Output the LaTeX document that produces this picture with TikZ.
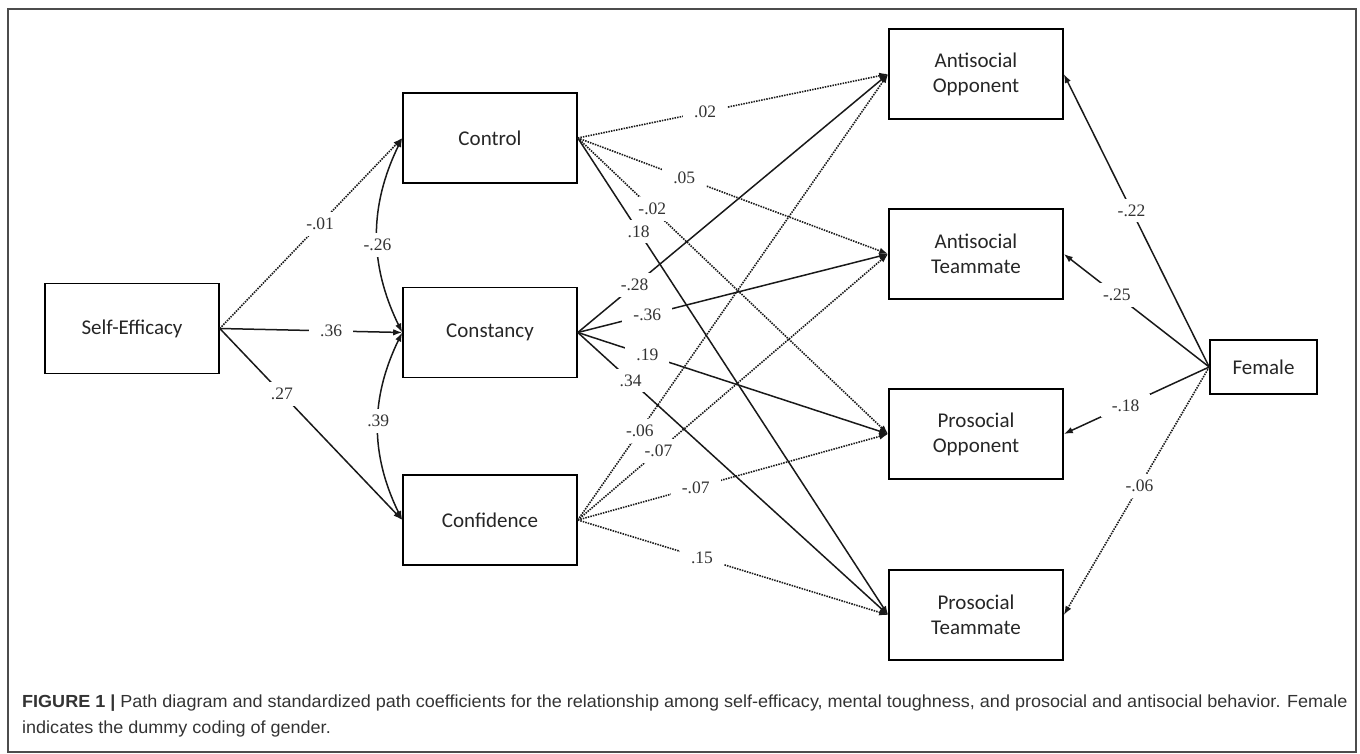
\documentclass[tikz,border=0pt]{standalone}
\usepackage{fontspec}
\setmainfont{Liberation Serif}
\newfontfamily\boxfont{Carlito}
\newfontfamily\capfont[FakeStretch=1.03]{Liberation Sans}
\usetikzlibrary{arrows.meta}
\begin{document}
\begin{tikzpicture}[x=1pt,y=-1pt,
  var/.style={draw, line width=1.6pt, minimum width=174pt, minimum height=90pt, inner sep=0pt, align=center, font=\boxfont\fontsize{21}{25}\selectfont, text=black!85},
  tipstyle/.style={-{Latex[length=9pt,width=6.5pt]}},
  sig/.style={tipstyle, line width=1.5pt, black!90},
  ns/.style={tipstyle, line width=1.6pt, black!90, dash pattern=on 1.5pt off 1.1pt},
  cov/.style={line width=1.5pt, black!90, {Latex[length=9pt,width=6.5pt]}-{Latex[length=9pt,width=6.5pt]}},
  lbl/.style={fill=white, inner xsep=11pt, inner ysep=6pt, font=\fontsize{17.5}{19}\selectfont, text=black!80},
  captxt/.style={anchor=base west, inner sep=0pt, font=\capfont\fontsize{17.5}{20}\selectfont, text=black!80}
]
\useasboundingbox (0,0) rectangle (1360,754);
\draw[line width=1.2pt, black!70] (8,9) rectangle (1356,752);

% variables
\node[var] (se)  at (132,328.5) {Self-Efficacy};
\node[var] (ctl) at (490,138) {Control};
\node[var] (cst) at (490,332.5) {Constancy};
\node[var] (cnf) at (490,520) {Confidence};
\node[var] (aop) at (976,74)  {Antisocial\\Opponent};
\node[var] (atm) at (976,254) {Antisocial\\Teammate};
\node[var] (pop) at (976,434) {Prosocial\\Opponent};
\node[var] (ptm) at (976,615) {Prosocial\\Teammate};
\node[var, minimum width=107pt, minimum height=54pt] (fem) at (1263.5,367) {Female};

% self-efficacy paths
\draw[ns]  (se.east) -- node[lbl,pos=.55]{-.01} (ctl.west);
\draw[sig] (se.east) -- node[lbl,pos=.61]{.36} (cst.west);
\draw[sig] (se.east) -- node[lbl,pos=.34]{.27} (cnf.west);

% covariances
\draw[cov] (ctl.west) to[bend right=26] node[lbl,inner xsep=8pt,pos=.55]{-.26} (cst.west);
\draw[cov] (cst.west) to[bend right=26] node[lbl,inner xsep=8pt,pos=.47]{.39} (cnf.west);

% control paths
\draw[ns]  (ctl.east) -- node[lbl,pos=.41]{.02} (aop.west);
\draw[ns]  (ctl.east) -- node[lbl,pos=.343]{.05} (atm.west);
\draw[ns]  (ctl.east) -- node[lbl,pos=.24]{-.02} (pop.west);
\draw[sig] (ctl.east) -- node[lbl,pos=.196]{.18} (ptm.west);

% constancy paths
\draw[sig] (cst.east) -- node[lbl,pos=.183]{-.28} (aop.west);
\draw[sig] (cst.east) -- node[lbl,pos=.224]{-.36} (atm.west);
\draw[sig] (cst.east) -- node[lbl,pos=.224]{.19} (pop.west);
\draw[sig] (cst.east) -- node[lbl,pos=.17]{.34} (ptm.west);

% confidence paths
\draw[ns] (cnf.east) -- node[lbl,pos=.2]{-.06} (aop.west);
\draw[ns] (cnf.east) -- node[lbl,pos=.26]{-.07} (atm.west);
\draw[ns] (cnf.east) -- node[lbl,pos=.38]{-.07} (pop.west);
\draw[ns] (cnf.east) -- node[lbl,pos=.40]{.15} (ptm.west);

% female paths
\draw[sig] (fem.west) -- node[lbl,pos=.534]{-.22} (aop.east);
\draw[sig] (fem.west) -- node[lbl,pos=.635]{-.25} (atm.east);
\draw[sig] (fem.west) -- node[lbl,pos=.575]{-.18} (pop.east);
\draw[ns]  (fem.west) -- node[lbl,pos=.48]{-.06} (ptm.east);

% caption
\node[captxt] (cap1) at (22,707) {\textbf{FIGURE 1 |} Path diagram and standardized path coefficients for the relationship among self-efficacy, mental toughness, and prosocial and antisocial behavior. Female};
\node[captxt] (cap2) at (22,733) {indicates the dummy coding of gender.};
\end{tikzpicture}
\end{document}
